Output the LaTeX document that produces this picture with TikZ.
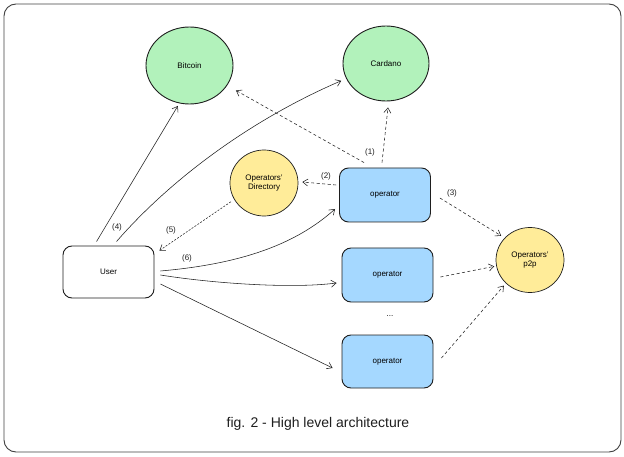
\documentclass[tikz,border=0pt]{standalone}
\usepackage{fontspec}
\setmainfont{Liberation Sans}
\usetikzlibrary{shapes.geometric,arrows.meta,calc}
\definecolor{ink}{HTML}{1E1E1E}
\definecolor{chaingreen}{HTML}{B2F2BB}
\definecolor{diryellow}{HTML}{FFEC99}
\definecolor{opblue}{HTML}{A5D8FF}
\tikzset{
  chain/.style={ellipse, draw=ink, line width=0.9pt, fill=chaingreen, inner sep=0pt, font=\fontsize{8}{9}\selectfont},
  yel/.style={ellipse, draw=ink, line width=0.7pt, fill=diryellow, inner sep=0pt, align=center, font=\fontsize{8}{9.5}\selectfont},
  opbox/.style={rectangle, rounded corners=9pt, draw=ink, line width=0.9pt, fill=opblue, minimum width=91pt, minimum height=54pt, inner sep=0pt, font=\fontsize{8}{9}\selectfont},
  userbox/.style={rectangle, rounded corners=9pt, draw=ink, line width=0.9pt, fill=white, minimum width=91pt, minimum height=52pt, inner sep=0pt, font=\fontsize{8}{9}\selectfont},
  conn/.style={draw=ink, line width=0.55pt, -{Straight Barb[length=5pt,width=7pt]}},
  dconn/.style={conn, dash pattern=on 3pt off 2.5pt},
  lbl/.style={font=\fontsize{8}{8}\selectfont, text=ink, inner sep=0pt},
}
\begin{document}
\begin{tikzpicture}[x=1pt,y=-1pt]
\useasboundingbox (0,0) rectangle (624,457);
\draw[draw=ink!85, line width=0.9pt, rounded corners=12pt] (4,4) rectangle (621,452);

\node[chain, minimum width=87pt, minimum height=77pt] (btc) at (189.5,65.5) {Bitcoin};
\node[chain, minimum width=86pt, minimum height=75pt] (card) at (386,63.5) {Cardano};
\node[yel, minimum width=68pt, minimum height=66pt] (dir) at (264,183) {Operators'\\Directory};
\node[yel, minimum width=68pt, minimum height=65pt] (p2p) at (530,260) {Operators'\\p2p};
\node[opbox] (op1) at (385,195) {operator};
\node[opbox] (op2) at (387.5,275) {operator};
\node[opbox, minimum height=53pt] (op3) at (387.5,361.5) {operator};
\node[userbox] (user) at (108.5,272) {User};
\node[font=\fontsize{8}{8}\selectfont, inner sep=0pt] (dots) at (390,316) {...};

\node[lbl] (l1) at (370,152) {(1)};
\node[lbl] (l2) at (326,176) {(2)};
\node[lbl] (l3) at (452,193) {(3)};
\node[lbl] (l4) at (117,227) {(4)};
\node[lbl] (l5) at (171,230) {(5)};
\node[lbl] (l6) at (187,258) {(6)};

\node[font=\fontsize{14}{16}\selectfont, text=ink, inner sep=0pt] (cap) at (318,424) {fig. 2 - High level architecture};

% user to chains
\draw[conn, shorten >=3pt] ([xshift=-12pt,yshift=4pt]user.north) -- (btc.255);
\draw[conn] ([xshift=8pt,yshift=4pt]user.north) .. controls (170,180) and (250,120) .. ([xshift=-5pt,yshift=-2pt]card.201);

% operator to chains
\draw[dconn, shorten >=10pt] ([xshift=-21pt,yshift=5pt]op1.north) -- (btc.-28);
\draw[dconn] ([xshift=-3pt,yshift=5pt]op1.north) -- ([xshift=2pt,yshift=-6pt]card.south);
\draw[dconn] ([xshift=-3pt,yshift=10pt]op1.west) -- ([xshift=4pt,yshift=1pt]dir.east);

% directory to user
\draw[dconn, dash pattern=on 2pt off 1.5pt, shorten <=4pt] (dir.209) -- ([xshift=5pt,yshift=-5pt]user.north east);

% user to operators
\draw[conn] ([xshift=6pt,yshift=1pt]user.east) .. controls (240,264) and (295,245) .. ([xshift=-4pt,yshift=-14pt]op1.west);
\draw[conn] ([xshift=6pt,yshift=-3pt]user.east) .. controls (210,283) and (290,289) .. ([xshift=-5pt,yshift=-8pt]op2.west);
\draw[conn] ([xshift=6pt,yshift=-12pt]user.east) -- ([xshift=-9pt,yshift=-6.5pt]op3.west);

% operators to p2p
\draw[dconn, shorten >=4pt] ([xshift=9pt,yshift=-3pt]op1.east) -- (p2p.139);
\draw[dconn, shorten >=2pt] ([xshift=7pt,yshift=-2pt]op2.east) -- (p2p.190);
\draw[dconn, shorten >=3pt] ([xshift=8pt,yshift=3.5pt]op3.east) -- (p2p.224);
\end{tikzpicture}
\end{document}
